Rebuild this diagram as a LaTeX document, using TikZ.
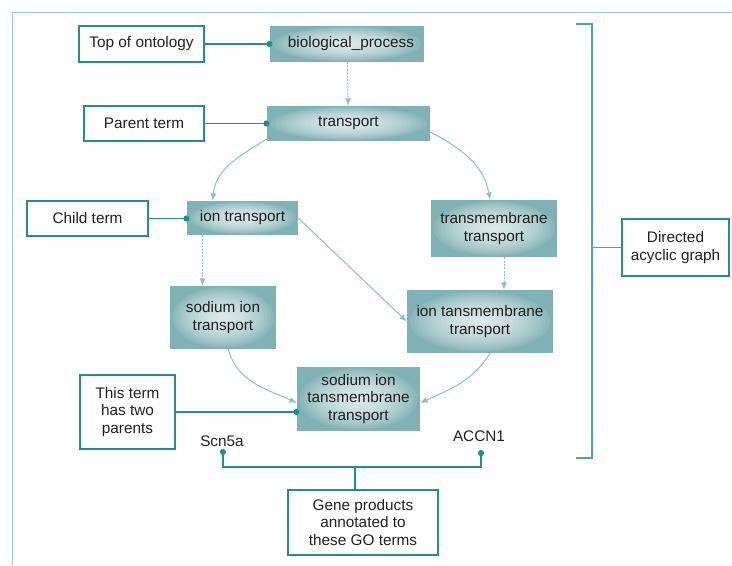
\documentclass[tikz,border=0pt]{standalone}
\usepackage{fontspec}
\setmainfont{Liberation Sans}
\usetikzlibrary{arrows.meta, positioning}

\definecolor{termteal}{HTML}{7FB2B5}
\definecolor{noteteal}{HTML}{1E8E8E}
\definecolor{linkteal}{HTML}{8CC0C3}
\definecolor{frameteal}{HTML}{9CCACD}
\definecolor{braceteal}{HTML}{45A9AB}
\definecolor{inkgray}{HTML}{231F20}

\begin{document}
\begin{tikzpicture}[
    x=0.75pt, y=0.75pt,
    font=\fontsize{11.5}{13.2}\selectfont,
    text=inkgray,
    term/.style={
      fill=termteal,
      path picture={
        % soft white glow in the middle of each term
        \foreach \r in {0.96,0.9,...,0.05}
          \fill[white, opacity=0.085] (path picture bounding box.center)
            ellipse[x radius=\r*0.5*\pgfkeysvalueof{/pgf/minimum width},
                    y radius=\r*0.5*\pgfkeysvalueof{/pgf/minimum height}];
      },
      align=center,
      inner sep=0pt
    },
    note/.style={
      draw=noteteal,
      line width=0.8pt,
      fill=white,
      align=center,
      inner sep=0pt
    },
    annot/.style={draw=noteteal, line width=0.9pt},
    dot/.style={-{Circle[length=4.5pt]}, shorten >=-2pt},
    link/.style={draw=linkteal, line width=0.75pt, -{Latex[length=5.5pt,width=4.5pt]}},
    dashlink/.style={link, dash pattern=on 1.5pt off 1pt},
    brace/.style={draw=braceteal, line width=1pt}
]
\useasboundingbox (0,0) rectangle (732,565);

% open frame
\draw[frameteal, line width=1.1pt] (732,552.5) -- (12.5,552.5) -- (12.5,0);

% GO terms
\node[term, minimum width=115.5pt, minimum height=27pt] (bp) at (347,521) {\hspace{6pt}biological\_process};
\node[term, minimum width=122.25pt, minimum height=26.25pt] (transport) at (348.5,441.5) {transport};
\node[term, minimum width=83.25pt, minimum height=25.5pt] (iontr) at (242.5,347) {ion transport};
\node[term, minimum width=94.5pt, minimum height=42.75pt] (tm) at (494,336.5) {transmembrane\\transport};
\node[term, minimum width=79.5pt, minimum height=47.25pt] (sit) at (223,247.5) {sodium ion\\transport};
\node[term, minimum width=109.5pt, minimum height=47.25pt] (itm) at (480,243.5) {ion tansmembrane\\transport};
\node[term, minimum width=92.25pt, minimum height=48pt] (sitt) at (358.5,166) {sodium ion\\tansmembrane\\transport};

% notes
\node[note, minimum width=93.75pt, minimum height=27pt] (topnote) at (141.5,521) {Top of ontology};
\node[note, minimum width=90pt, minimum height=26.25pt] (parentnote) at (144,441.5) {Parent term};
\node[note, minimum width=90.75pt, minimum height=26.25pt] (childnote) at (87.5,346.5) {Child term};
\node[note, minimum width=71.25pt, minimum height=55.5pt] (twonote) at (127.5,153) {This term\\has two\\parents};
\node[note, minimum width=112.5pt, minimum height=48.75pt] (genenote) at (363,42.5) {Gene products\\annotated to\\these GO terms};
\node[note, minimum width=80.25pt, minimum height=42.75pt] (dagnote) at (675.5,317.5) {Directed\\acyclic graph};

% gene products
\node (scn) at (222,124) {Scn5a};
\node (accn) at (479,129) {ACCN1};
\coordinate (scndot) at (223,116);
\coordinate (accdot) at (481,115);
\coordinate (genejoin) at (355,98);

% DAG links
\draw[dashlink] (bp) -- (transport);
\draw[link] (transport.west |- 0,426) to[out=212, in=85] ([xshift=19.5pt]iontr.north west);
\draw[link] (transport.east |- 0,433) to[out=-28, in=100] ([xshift=-3pt]tm.north);
\draw[dashlink] ([xshift=-30pt]iontr.south) -- ([xshift=-30pt]iontr.south |- sit.north);
\draw[link] (iontr.east) -- (itm.west);
\draw[dashlink] ([xshift=7.5pt]tm.south) -- ([xshift=7.5pt]tm.south |- itm.north);
\draw[link] ([xshift=4pt]sit.south) to[out=-75, in=155] ([yshift=-3pt]sitt.west);
\draw[link] ([xshift=7.5pt]itm.south) to[out=-122, in=25] ([yshift=-3pt]sitt.east);

% annotation lines
\draw[annot, dot] (topnote.east) -- (bp.west);
\draw[annot, dot] (parentnote.east) -- (transport.west);
\draw[annot, dot] (childnote.east) -- (childnote.east -| iontr.west);
\draw[annot, dot] (twonote.east) -- (twonote.east -| sitt.west);
\draw[annot, {Circle[length=4.5pt]}-{Circle[length=4.5pt]}] (scndot) |- (genejoin) -| (accdot);
\draw[annot] (genejoin) -- (genejoin |- genenote.north);

% bracket
\draw[brace] (576,541) -- (592,541) -- (592,107) -- (576,107);
\draw[brace] (dagnote.west) -- ++(-30,0);
\end{tikzpicture}
\end{document}
